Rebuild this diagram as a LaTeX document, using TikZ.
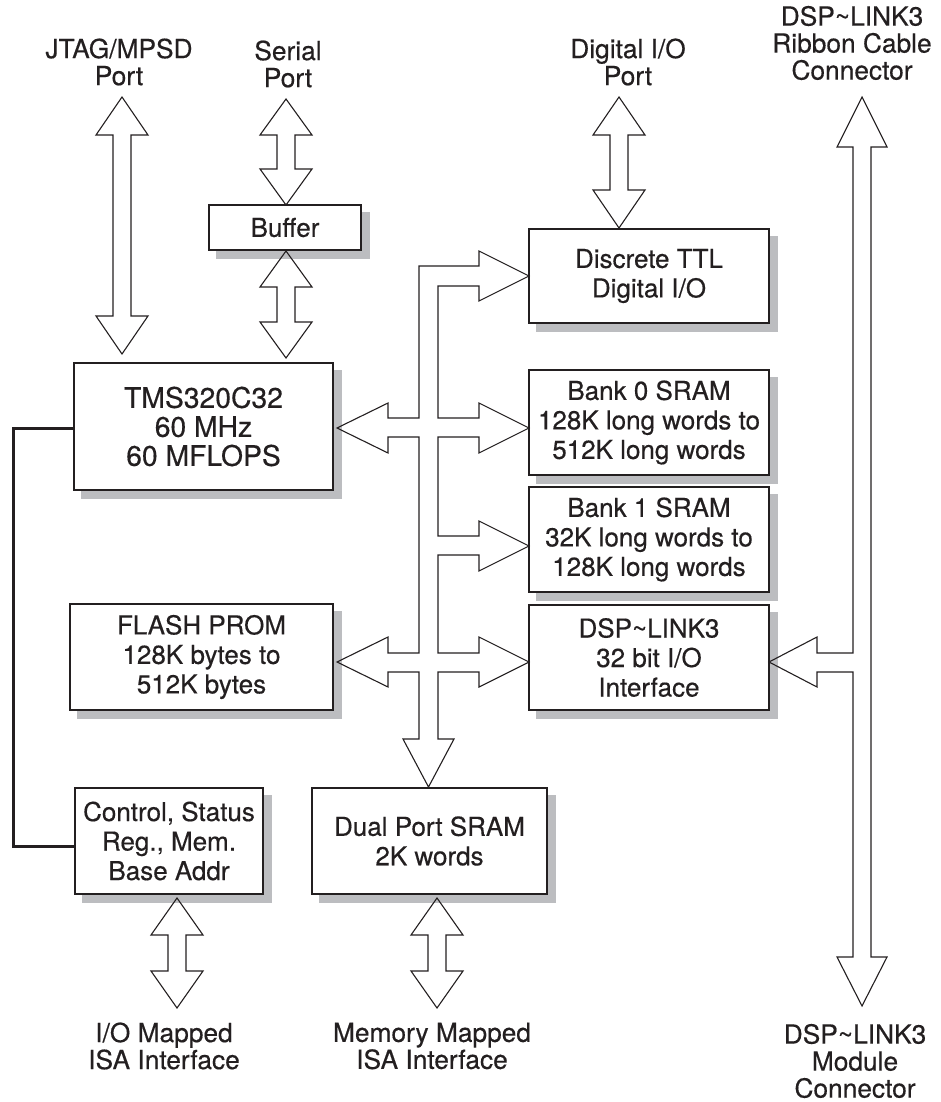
\documentclass[tikz,border=0pt]{standalone}
\usepackage{fontspec}
\setmainfont{TeX Gyre Heros}[FakeBold=0.4, UprightFeatures={FakeBold=0.4}]
\usetikzlibrary{backgrounds}
\definecolor{ink}{RGB}{35,31,32}
\definecolor{shgray}{RGB}{188,189,192}
\tikzset{
 blk/.style={draw=ink, line width=1.3pt, fill=white, inner sep=0pt, align=center, text=ink,
   font=\fontsize{26}{29.5}\selectfont},
 lbl/.style={inner sep=0pt, align=center, text=ink, font=\fontsize{26.3}{27}\selectfont},
 barrow/.style={draw=ink, line width=1.1pt, line join=miter},
 ctrlline/.style={draw=ink, line width=3pt, line join=miter},
 shade/.style={fill=shgray},
}
\newcommand{\VDA}[4]{\draw[barrow] (#1,#2) -- (#1+26,#2+#4) -- (#1+9,#2+#4) -- (#1+9,#3-#4) -- (#1+26,#3-#4) -- (#1,#3) -- (#1-26,#3-#4) -- (#1-9,#3-#4) -- (#1-9,#2+#4) -- (#1-26,#2+#4) -- cycle;}
\newcommand{\shadowof}[1]{\fill[shade] ([shift={(8pt,-8pt)}]#1.south west) rectangle ([shift={(8pt,-8pt)}]#1.north east);}
\begin{document}
\begin{tikzpicture}[x=1pt,y=-1pt]
\useasboundingbox (0,0) rectangle (940,1102);

% boxes
\node[blk, minimum width=259pt, minimum height=127pt, font=\fontsize{28.3}{29}\selectfont] (tms) at (203.5,426.5) {TMS320C32\\60 MHz\\60 MFLOPS};
\node[blk, minimum width=152pt, minimum height=45pt] (buf) at (285,227.5) {Buffer};
\node[blk, minimum width=240pt, minimum height=94pt] (ttl) at (649,276) {Discrete TTL\\Digital I/O};
\node[blk, minimum width=240pt, minimum height=105pt] (bank0) at (649,422.5) {Bank 0 SRAM\\128K long words to\\512K long words};
\node[blk, minimum width=240pt, minimum height=105pt] (bank1) at (649,539.5) {Bank 1 SRAM\\32K long words to\\128K long words};
\node[blk, minimum width=240pt, minimum height=105pt] (dspio) at (649,657.5) {DSP\textasciitilde LINK3\\32 bit I/O\\Interface};
\node[blk, minimum width=263pt, minimum height=106pt] (flash) at (201.5,657) {FLASH PROM\\128K bytes to\\512K bytes};
\node[blk, minimum width=188pt, minimum height=106pt] (ctrl) at (169,841) {Control, Status\\Reg., Mem.\\Base Addr};
\node[blk, minimum width=235pt, minimum height=106pt] (dual) at (429.5,841) {Dual Port SRAM\\2K words};

\begin{scope}[on background layer]
\shadowof{tms}\shadowof{buf}\shadowof{ttl}\shadowof{bank0}\shadowof{bank1}
\shadowof{dspio}\shadowof{flash}\shadowof{ctrl}\shadowof{dual}
\end{scope}

% labels
\node[lbl] (jtag) at (119,62) {JTAG/MPSD\\Port};
\node[lbl] (serial) at (288,64) {Serial\\Port};
\node[lbl] (dio) at (628,62) {Digital I/O\\Port};
\node[lbl] (ribbon) at (852,43) {DSP\textasciitilde LINK3\\Ribbon Cable\\Connector};
\node[lbl] (iomap) at (164,1046) {I/O Mapped\\ISA Interface};
\node[lbl] (memmap) at (432,1046) {Memory Mapped\\ISA Interface};
\node[lbl] (module) at (855,1061) {DSP\textasciitilde LINK3\\Module\\Connector};

% vertical double arrows
\VDA{122}{97}{354}{38}
\VDA{286}{99}{205}{36}
\VDA{286}{251}{358}{36}
\VDA{619}{97}{228}{38}
\VDA{177}{898}{1008}{37}
\VDA{437}{898}{1008}{37}

% main bus
\draw[barrow] (419,266) -- (479,266) -- (479,251) -- (529,276) -- (479,301) -- (479,286) -- (438,286)
 -- (438,418) -- (479,418) -- (479,403) -- (529,428) -- (479,453) -- (479,437) -- (438,437)
 -- (438,536) -- (479,536) -- (479,521) -- (529,546) -- (479,571) -- (479,555) -- (438,555)
 -- (438,653) -- (479,653) -- (479,637) -- (529,662) -- (479,687) -- (479,672) -- (438,672)
 -- (438,739) -- (454,739) -- (428.5,787) -- (403,739) -- (419,739)
 -- (419,672) -- (388,672) -- (388,687) -- (337,662) -- (388,637) -- (388,653) -- (419,653)
 -- (419,437) -- (388,437) -- (388,453) -- (337,428) -- (388,403) -- (388,418) -- (419,418) -- cycle;

% DSP~LINK3 vertical arrow
\draw[barrow] (862,97) -- (887,147) -- (871,147) -- (871,957) -- (887,957) -- (862,1006) -- (837,957) -- (853,957)
 -- (853,672) -- (817,672) -- (817,687) -- (769,662) -- (817,637) -- (817,653) -- (853,653) -- (853,147) -- (837,147) -- cycle;

% control line
\draw[ctrlline] ([yshift=-1.5pt]tms.west) -- (13,428) -- (13,846) -- ([yshift=-5pt]ctrl.west);
\end{tikzpicture}
\end{document}
